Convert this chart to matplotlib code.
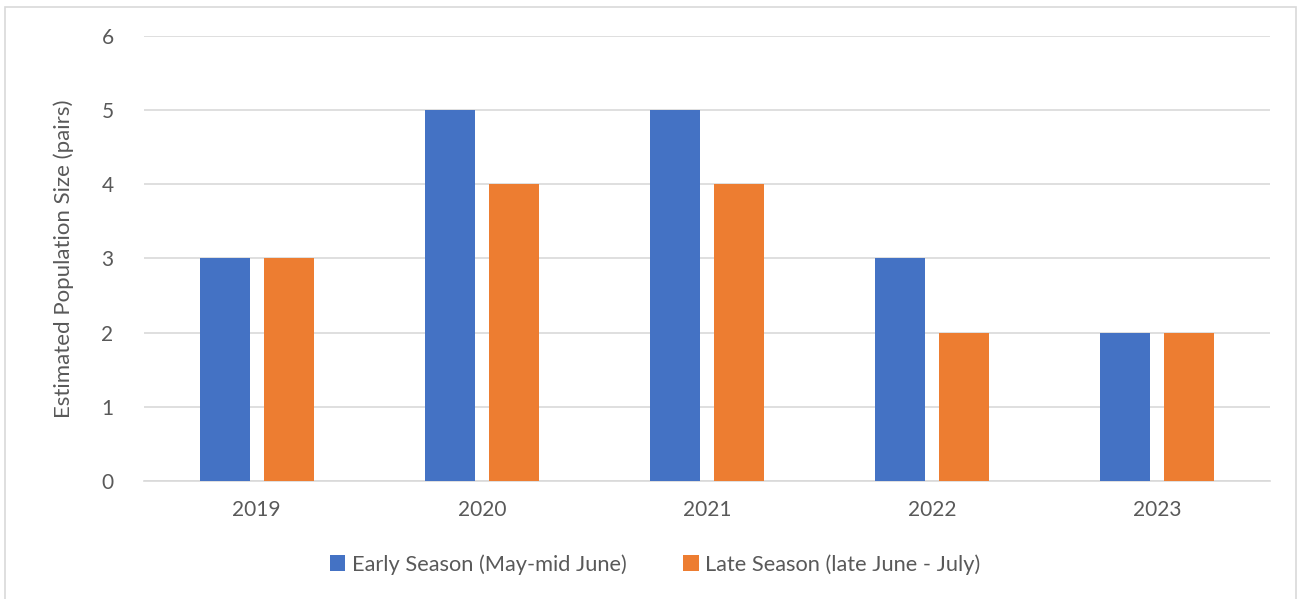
import matplotlib.pyplot as plt
from matplotlib.patches import Rectangle
import numpy as np

# estimated breeding pairs per season
years = ['2019', '2020', '2021', '2022', '2023']
early_season = [3, 5, 5, 3, 2]
late_season = [3, 4, 4, 2, 2]

blue = '#4472C4'
orange = '#ED7D31'
text_col = '#595959'
grid_col = '#D9D9D9'

plt.rcParams['font.family'] = ['Lato', 'DejaVu Sans']

fig = plt.figure(figsize=(12.99, 5.99), dpi=100)
ax = fig.add_axes([0.1109, 0.197, 0.8668, 0.7429])

# chart-area frame
fig.patches.append(Rectangle((0.004, -0.01), 0.994, 0.998, transform=fig.transFigure,
                             fill=False, edgecolor='#D9D9D9', linewidth=1.2))

x = np.arange(len(years))
w = 0.222
off = 0.142
ax.bar(x - off, early_season, w, color=blue, label='Early Season (May-mid June)', zorder=3)
ax.bar(x + off, late_season, w, color=orange, label='Late Season (late June - July)', zorder=3)

ax.set_xlim(-0.5, len(years) - 0.5)
ax.set_ylim(0, 6)
ax.set_yticks(range(7))
ax.set_xticks(x)
ax.set_xticklabels(years)
ax.grid(axis='y', color=grid_col, linewidth=1.2, zorder=0)
for s in ['top', 'right', 'left']:
    ax.spines[s].set_visible(False)
ax.spines['bottom'].set_color(grid_col)
ax.spines['bottom'].set_linewidth(1.2)
ax.tick_params(length=0, labelsize=15, labelcolor=text_col)
ax.tick_params(axis='y', pad=22)
ax.tick_params(axis='x', pad=14)

ax.set_ylabel('Estimated Population Size (pairs)', fontsize=16, color=text_col, labelpad=20)

ax.legend(loc='upper center', bbox_to_anchor=(0.454, -0.12), ncol=2, frameon=False,
          fontsize=15.7, labelcolor=text_col, handlelength=0.7, handleheight=0.7,
          handletextpad=0.3, columnspacing=2.6)

fig.savefig('out.png', dpi=100)
